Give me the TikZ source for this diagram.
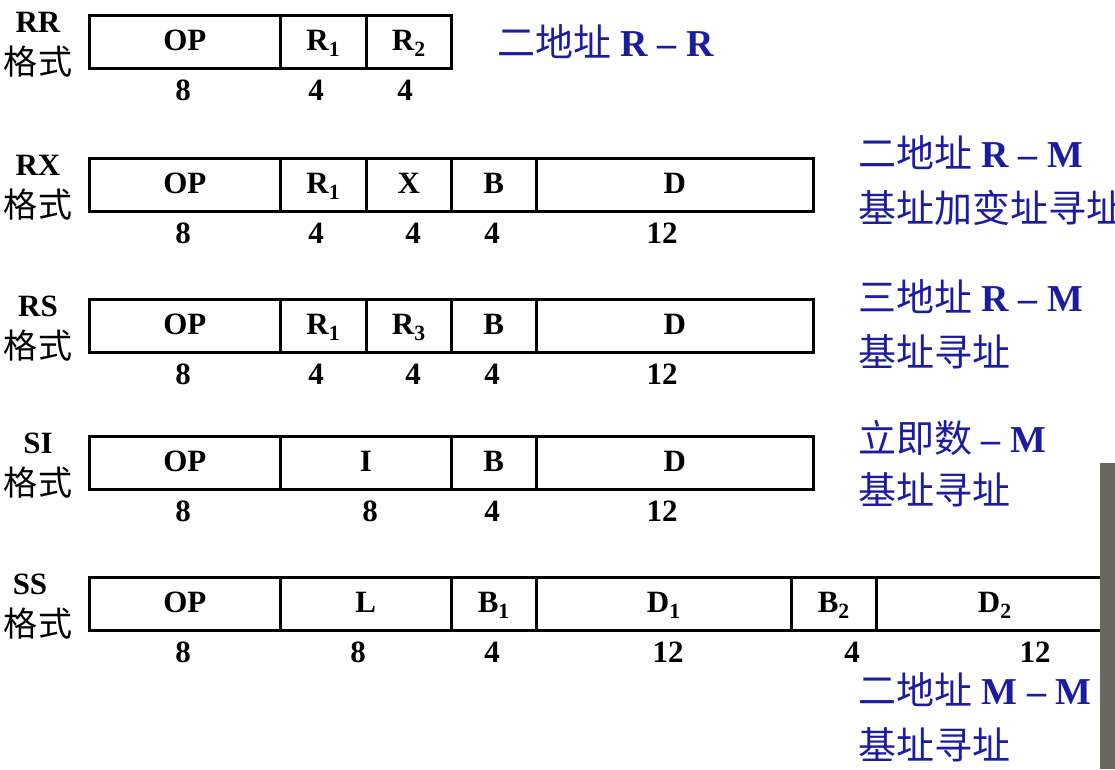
\documentclass[tikz,border=0pt]{standalone}
\usepackage{fontspec}
\setmainfont{Liberation Serif}
\newfontfamily\cjk{Noto Sans CJK SC}
\definecolor{slideblue}{RGB}{28,28,160}
\definecolor{videogray}{RGB}{105,104,95}
\tikzset{
  fieldbox/.style={draw, line width=2.6pt, minimum height=53pt, inner sep=0pt,
    text height=22pt, text depth=5pt, font=\fontsize{31}{34}\selectfont\bfseries},
  bits/.style={inner sep=0pt, font=\fontsize{31}{34}\selectfont\bfseries},
  fmtname/.style={inner sep=0pt, font=\fontsize{31}{34}\selectfont\bfseries},
  fmtword/.style={inner sep=0pt, font=\fontsize{34}{36}\selectfont\cjk},
  note/.style={anchor=west, inner sep=0pt, text=slideblue, font=\fontsize{38}{40}\selectfont},
}
% name, left x, right x, top y, label, x of bit count, bit count
\newcommand{\fmtfield}[7]{\node[fieldbox, anchor=north west, minimum width={(#3-#2)*1pt}] at (#2,#4) (#1) {#5};
  \node[bits] at (#6,#4+76) (#1-n) {#7}}
\newcommand{\fmtrow}[3]{\node[fmtname] at (#2,#3+8) (#1-name) {#1};
  \node[fmtword] at (38,#3+48) (#1-word) {格式}}

\begin{document}
\begin{tikzpicture}[x=1pt,y=-1pt]
  \useasboundingbox (0,0) rectangle (1115,769);

  % RR
  \fmtrow{RR}{38}{14};
  \fmtfield{rr-op}{88}{279}{14}{OP}{183}{8};
  \fmtfield{rr-r1}{279}{365}{14}{R\textsubscript{1}}{316}{4};
  \fmtfield{rr-r2}{365}{450}{14}{R\textsubscript{2}}{405}{4};
  \node[note] at (497,42) (rr-note) {{\cjk 二地址} \textbf{R – R}};

  % RX
  \fmtrow{RX}{38}{157};
  \fmtfield{rx-op}{88}{279}{157}{OP}{183}{8};
  \fmtfield{rx-r1}{279}{365}{157}{R\textsubscript{1}}{316}{4};
  \fmtfield{rx-x}{365}{450}{157}{X}{413}{4};
  \fmtfield{rx-b}{450}{535}{157}{B}{492}{4};
  \fmtfield{rx-d}{535}{812}{157}{D}{662}{12};
  \node[note] at (858,153) (rx-note) {{\cjk 二地址} \textbf{R – M}};
  \node[note] at (858,208) (rx-mode) {\cjk 基址加变址寻址};

  % RS
  \fmtrow{RS}{38}{298};
  \fmtfield{rs-op}{88}{279}{298}{OP}{183}{8};
  \fmtfield{rs-r1}{279}{365}{298}{R\textsubscript{1}}{316}{4};
  \fmtfield{rs-r3}{365}{450}{298}{R\textsubscript{3}}{413}{4};
  \fmtfield{rs-b}{450}{535}{298}{B}{492}{4};
  \fmtfield{rs-d}{535}{812}{298}{D}{662}{12};
  \node[note] at (858,297) (rs-note) {{\cjk 三地址} \textbf{R – M}};
  \node[note] at (858,352) (rs-mode) {\cjk 基址寻址};

  % SI
  \fmtrow{SI}{38}{435};
  \fmtfield{si-op}{88}{279}{435}{OP}{183}{8};
  \fmtfield{si-i}{279}{450}{435}{I}{370}{8};
  \fmtfield{si-b}{450}{535}{435}{B}{492}{4};
  \fmtfield{si-d}{535}{812}{435}{D}{662}{12};
  \node[note] at (858,438) (si-note) {{\cjk 立即数} \textbf{– M}};
  \node[note] at (858,490) (si-mode) {\cjk 基址寻址};

  % SS
  \fmtrow{SS}{30}{576};
  \fmtfield{ss-op}{88}{279}{576}{OP}{183}{8};
  \fmtfield{ss-l}{279}{450}{576}{L}{358}{8};
  \fmtfield{ss-b1}{450}{535}{576}{B\textsubscript{1}}{492}{4};
  \fmtfield{ss-d1}{535}{790}{576}{D\textsubscript{1}}{668}{12};
  \fmtfield{ss-b2}{790}{875}{576}{B\textsubscript{2}}{852}{4};
  \fmtfield{ss-d2}{875}{1112}{576}{D\textsubscript{2}}{1035}{12};
  \node[note] at (858,690) (ss-note) {{\cjk 二地址} \textbf{M – M}};
  \node[note] at (858,745) (ss-mode) {\cjk 基址寻址};

  % video strip on the right
  \fill[videogray] (1100,463) rectangle (1115,769);
\end{tikzpicture}
\end{document}
